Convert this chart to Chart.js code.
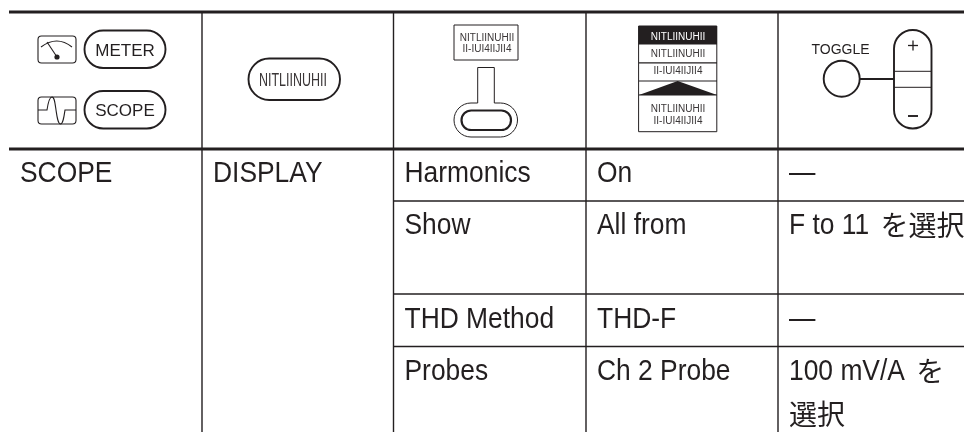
<!DOCTYPE html>
<html>
<head>
<meta charset="utf-8">
<style>
  html, body { margin: 0; padding: 0; background: #fff; }
  canvas { display: block; }
</style>
<script src="https://cdn.jsdelivr.net/npm/chart.js@4"></script>
</head>
<body>
<canvas id="table" width="964" height="432"></canvas>
<script>
// Table text
const modes = ["SCOPE"];
const menus = ["DISPLAY"];
const items = ["Harmonics", "Show", "THD Method", "Probes"];
const settings = ["On", "All from", "THD-F", "Ch 2 Probe"];
const actions = [["—"], ["F to 11 を選択"], ["—"], ["100 mV/A を", "選択"]];
const frontPanelKeys = ["METER", "SCOPE"];
const toggleLabel = "TOGGLE";
const softLabelTop = "NITLIINUHII";
const softLabelBottom = "II-IUI4IIJII4";

// Table layout, in the page's own units
const colEdges = [9, 202, 393.5, 586, 778, 964];
const rowEdges = [12, 149, 201, 294, 346.5, 432];
const textBaselines = [182, 234, 328, 380];

const INK = "#231f20";
const SANS = '"Liberation Sans", sans-serif';
const CJK = '"Noto Sans CJK JP", sans-serif';
const NARROW_FACTOR = 0.88; // body face in the reference is a condensed sans

function rule(x1, y1, x2, y2, width) {
  return {
    type: "line",
    data: [{ x: x1, y: y1 }, { x: x2, y: y2 }],
    borderColor: INK,
    borderWidth: width,
    pointRadius: 0,
    tension: 0
  };
}

// Grid: two heavy rules, four columns, row rules past the third column
const ruleSets = [
  rule(colEdges[0], rowEdges[0], colEdges[5], rowEdges[0], 3),
  rule(colEdges[0], rowEdges[1], colEdges[5], rowEdges[1], 3)
];
[1, 2, 3, 4].forEach(c => ruleSets.push(rule(colEdges[c], rowEdges[0], colEdges[c], rowEdges[5], 1.4)));
[2, 3, 4].forEach(r => ruleSets.push(rule(colEdges[2], rowEdges[r], colEdges[5], rowEdges[r], 1.4)));

// Mixed latin and kana text, each run in its own font
function drawMixed(ctx, text, x, y) {
  const runs = text.match(/[\u3000-\u9fff]+|[^\u3000-\u9fff]+/g);
  let pen = x;
  runs.forEach(run => {
    if (/[\u3000-\u9fff]/.test(run)) {
      if (pen > x) pen += 4;
      ctx.font = `28px ${CJK}`;
      ctx.fillText(run, pen, y + 1.5);
      pen += ctx.measureText(run).width;
    } else {
      ctx.font = `30px ${SANS}`;
      const w = ctx.measureText(run).width * NARROW_FACTOR;
      ctx.fillText(run, pen, y, w);
      pen += w;
    }
  });
}

const tablePlugin = {
  id: "tablePlugin",
  afterDatasetsDraw(chart) {
    const { ctx, scales } = chart;
    const X = v => scales.x.getPixelForValue(v);
    const Y = v => scales.y.getPixelForValue(v);

    const stroke = w => { ctx.lineWidth = w; ctx.strokeStyle = INK; ctx.stroke(); };
    const pill = (x1, y1, x2, y2, r, w) => {
      ctx.beginPath();
      ctx.roundRect(X(x1), Y(y1), X(x2) - X(x1), Y(y2) - Y(y1), r);
      stroke(w);
    };
    const box = (x1, y1, x2, y2, w) => {
      ctx.beginPath();
      ctx.rect(X(x1), Y(y1), X(x2) - X(x1), Y(y2) - Y(y1));
      stroke(w);
    };
    const line = (x1, y1, x2, y2, w) => {
      ctx.beginPath();
      ctx.moveTo(X(x1), Y(y1));
      ctx.lineTo(X(x2), Y(y2));
      stroke(w);
    };
    const softText = (text, x, y, width, size, color) => {
      ctx.font = `${size}px ${SANS}`;
      ctx.fillStyle = color || "#3a3637";
      ctx.textAlign = "center";
      ctx.fillText(text, X(x), Y(y), width);
      ctx.textAlign = "left";
      ctx.fillStyle = INK;
    };

    ctx.save();
    ctx.fillStyle = INK;
    ctx.textBaseline = "alphabetic";
    ctx.textAlign = "left";

    // Body cells
    const padX = colEdges.map(e => e + 11);
    drawMixed(ctx, modes[0], X(padX[0]), Y(textBaselines[0]));
    drawMixed(ctx, menus[0], X(padX[1]), Y(textBaselines[0]));
    items.forEach((t, i) => {
      drawMixed(ctx, t, X(padX[2]), Y(textBaselines[i]));
      drawMixed(ctx, settings[i], X(padX[3]), Y(textBaselines[i]));
      actions[i].forEach((l, j) => drawMixed(ctx, l, X(padX[4]), Y(textBaselines[i] + j * 43)));
    });

    // Column 1: meter icon and key
    pill(38, 36, 76, 63, 3.5, 1.1);
    ctx.beginPath();
    ctx.moveTo(X(41), Y(47));
    ctx.quadraticCurveTo(X(57), Y(35), X(72), Y(47));
    stroke(1.1);
    line(47, 42, 57, 57, 1.1);
    ctx.beginPath();
    ctx.arc(X(57), Y(57), 2.6, 0, Math.PI * 2);
    ctx.fill();

    // Column 1: scope icon and key
    pill(38, 97, 76, 124, 3.5, 1.1);
    ctx.beginPath();
    ctx.moveTo(X(38), Y(110));
    ctx.lineTo(X(47), Y(110));
    ctx.bezierCurveTo(X(48.5), Y(100), X(50), Y(97), X(52), Y(97));
    ctx.bezierCurveTo(X(54.5), Y(97), X(55), Y(103), X(56), Y(110));
    ctx.bezierCurveTo(X(57), Y(117), X(58), Y(124), X(60.5), Y(124));
    ctx.bezierCurveTo(X(63), Y(124), X(64), Y(117), X(65), Y(110));
    ctx.lineTo(X(76), Y(110));
    stroke(1.1);

    pill(84.5, 30.5, 165.5, 68, 18.7, 1.9);
    pill(84.5, 91, 165.5, 128.5, 18.7, 1.9);
    ctx.font = `17px ${SANS}`;
    ctx.textAlign = "center";
    ctx.fillText(frontPanelKeys[0], X(125), Y(56));
    ctx.fillText(frontPanelKeys[1], X(125), Y(116));
    ctx.textAlign = "left";

    // Column 2: soft key
    pill(248.5, 58.5, 340, 100, 20.7, 1.9);
    softText(softLabelTop, 293, 85.5, 68, 18);

    // Column 3: label box and keyhole
    box(454, 25, 518, 60, 1);
    softText(softLabelTop, 487, 41, 55, 10);
    softText(softLabelBottom, 487, 52, 55, 10);
    ctx.beginPath();
    ctx.moveTo(X(477.7), Y(103));
    ctx.lineTo(X(477.7), Y(67.5));
    ctx.lineTo(X(494.3), Y(67.5));
    ctx.lineTo(X(494.3), Y(103));
    ctx.lineTo(X(500), Y(103));
    ctx.arc(X(500.5), Y(120), 17, -Math.PI / 2, Math.PI / 2);
    ctx.lineTo(X(471), Y(137));
    ctx.arc(X(471), Y(120), 17, Math.PI / 2, -Math.PI / 2);
    ctx.closePath();
    stroke(1);
    pill(461.5, 110.5, 511, 130, 9.7, 2.2);

    // Column 4: menu stack
    ctx.fillRect(X(638.5), Y(26), X(717) - X(638.5), Y(44.5) - Y(26));
    box(638.6, 26, 716.8, 131.7, 1);
    line(639, 62.8, 717, 62.8, 1.2);
    line(639, 81, 717, 81, 1.2);
    line(639, 95, 717, 95, 1.2);
    ctx.beginPath();
    ctx.moveTo(X(639), Y(95));
    ctx.lineTo(X(677.7), Y(81));
    ctx.lineTo(X(717), Y(95));
    ctx.closePath();
    ctx.fill();
    softText(softLabelTop, 678, 40, 55, 10, "#fff");
    softText(softLabelTop, 678, 57, 55, 10);
    softText(softLabelBottom, 678, 74, 55, 10);
    softText(softLabelTop, 678, 112, 55, 10);
    softText(softLabelBottom, 678, 123.5, 55, 10);

    // Column 5: toggle
    ctx.font = `14px ${SANS}`;
    ctx.textAlign = "center";
    ctx.fillText(toggleLabel, X(840.5), Y(54));
    ctx.textAlign = "left";
    ctx.beginPath();
    ctx.arc(X(841.7), Y(78.7), 18, 0, Math.PI * 2);
    stroke(1.9);
    line(860, 79, 894, 79, 1.9);
    pill(894, 30, 931.5, 128.5, 18.7, 1.9);
    line(894, 71.3, 931.5, 71.3, 1);
    line(894, 87.3, 931.5, 87.3, 1);
    line(908, 45.5, 918, 45.5, 1.3);
    line(913, 40.5, 913, 50.5, 1.3);
    line(908, 116, 918, 116, 1.9);

    ctx.restore();
  }
};

new Chart(document.getElementById("table"), {
  type: "scatter",
  data: { datasets: ruleSets },
  options: {
    responsive: false,
    animation: false,
    layout: { padding: 0 },
    plugins: { legend: { display: false }, tooltip: { enabled: false } },
    scales: {
      x: { type: "linear", min: 0, max: 964, display: false },
      y: { type: "linear", min: 0, max: 432, reverse: true, display: false }
    }
  },
  plugins: [tablePlugin]
});
</script>
</body>
</html>
